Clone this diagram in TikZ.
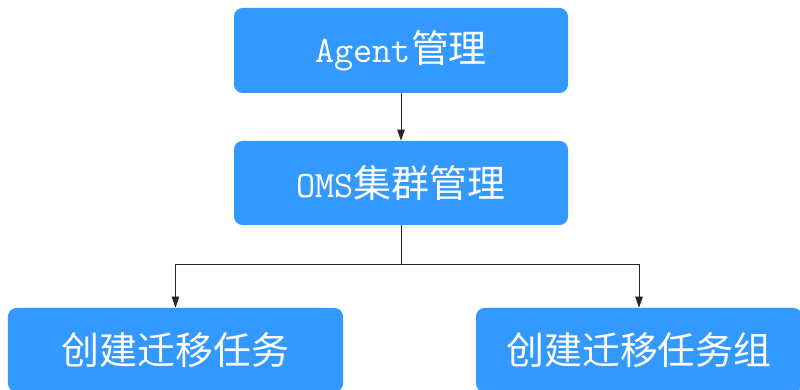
\documentclass[tikz,border=0pt]{standalone}
\usepackage{fontspec}
\usepackage{tikz}
\usetikzlibrary{arrows.meta, positioning, calc}
\newfontfamily\cjk{Noto Sans CJK SC}
\newcommand{\latin}{\ttfamily\fontsize{26.5}{30}\selectfont}
\definecolor{boxcolor}{RGB}{51,153,255}
\definecolor{linecolor}{RGB}{38,38,38}

\begin{document}
\begin{tikzpicture}[
    stepbox/.style={fill=boxcolor, text=white, minimum width=8.35cm, minimum height=2.1cm, rounded corners=6pt, inner sep=0pt, font=\cjk\fontsize{27}{32}\selectfont, align=center},
    arrow/.style={-{Triangle[length=2.8mm, width=1.9mm]}, draw=linecolor, line width=0.6pt}
]
    \useasboundingbox (0,0) rectangle (20,9.725);
    \clip (0,0) rectangle (20,9.725);

    % Management
    \node[stepbox, minimum height=2.125cm] (agent) at (10.025,8.4625) {{\latin Agent}管理};
    \node[stepbox] (oms) at (10.025,5.15) {{\latin OMS}集群管理};

    % Tasks
    \node[stepbox, minimum width=8.375cm] (task) at (4.3875,0.975) {创建迁移任务};
    \node[stepbox, minimum width=8.15cm] (group) at (15.975,0.975) {创建迁移任务组};

    % Connections
    \coordinate (split) at ($(oms.south)+(0,-0.975)$);
    \draw[arrow] (agent) -- (oms);
    \draw[arrow] (oms.south) -- (split) -| (task);
    \draw[arrow] (split) -| (group);
\end{tikzpicture}
\end{document}
